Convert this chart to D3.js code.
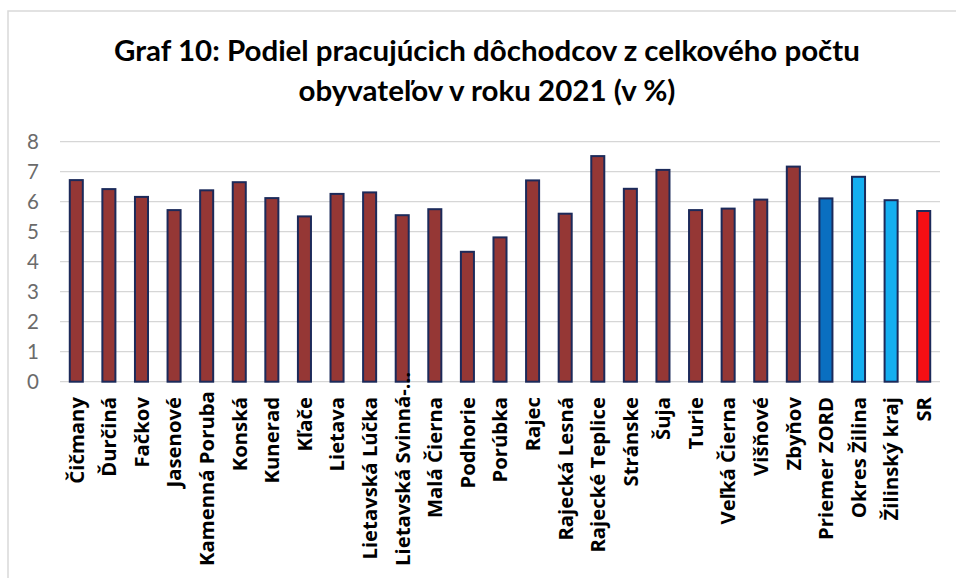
<!DOCTYPE html>
<html>
<head>
<meta charset="utf-8">
<script src="https://cdn.jsdelivr.net/npm/d3@7"></script>
<style>
  html, body { margin: 0; padding: 0; background: #fff; }
  svg { display: block; }
</style>
</head>
<body>
<svg id="chart" width="956" height="578"></svg>
<script>
const categories = ["Čičmany","Ďurčiná","Fačkov","Jasenové","Kamenná Poruba","Konská","Kunerad","Kľače","Lietava","Lietavská Lúčka","Lietavská Svinná-…","Malá Čierna","Podhorie","Porúbka","Rajec","Rajecká Lesná","Rajecké Teplice","Stránske","Šuja","Turie","Veľká Čierna","Višňové","Zbyňov","Priemer ZORD","Okres Žilina","Žilinský kraj","SR"];
const values = [6.72,6.42,6.16,5.72,6.38,6.65,6.12,5.51,6.26,6.31,5.55,5.75,4.33,4.81,6.71,5.60,7.52,6.43,7.06,5.72,5.77,6.07,7.17,6.11,6.83,6.05,5.69];
const barColors = ["#953735","#953735","#953735","#953735","#953735","#953735","#953735","#953735","#953735","#953735","#953735","#953735","#953735","#953735","#953735","#953735","#953735","#953735","#953735","#953735","#953735","#953735","#953735","#0a6fc0","#14aef0","#14aef0","#f50f14"];
const yTicks = [0,1,2,3,4,5,6,7,8];
const titleLines = ["Graf 10: Podiel pracujúcich dôchodcov z celkového počtu","obyvateľov v roku 2021 (v %)"];

const svg = d3.select("#chart");
const font = "Lato, 'Open Sans', sans-serif";
const lblFont = "'Open Sans', sans-serif";

// frame
svg.append("rect").attr("x", 8).attr("y", 11).attr("width", 1200).attr("height", 1200)
  .attr("fill", "none").attr("stroke", "#d9d9d9").attr("stroke-width", 1.5);

const x = d3.scaleBand().domain(categories).range([60, 940]).paddingInner(0.6).paddingOuter(0.3);
const y = d3.scaleLinear().domain([0, 8]).range([381.7, 141.7]);

// gridlines
svg.append("g").selectAll("line").data(yTicks).join("line")
  .attr("x1", 60).attr("x2", 940)
  .attr("y1", d => y(d)).attr("y2", d => y(d))
  .attr("stroke", "#d6d6d6").attr("stroke-width", 1.3);

// y axis labels
const yAxis = d3.axisLeft(y).tickValues(yTicks).tickSize(0).tickPadding(0).tickFormat(d3.format("d"));
const ga = svg.append("g").attr("transform", "translate(39,0)").call(yAxis);
ga.select(".domain").remove();
ga.selectAll("text").attr("font-family", font).attr("font-size", 20.5).attr("fill", "#6b6b6b");

// bars
svg.append("g").selectAll("rect").data(categories).join("rect")
  .attr("x", d => x(d))
  .attr("y", (d, i) => y(values[i]))
  .attr("width", x.bandwidth())
  .attr("height", (d, i) => y(0) - y(values[i]))
  .attr("fill", (d, i) => barColors[i])
  .attr("stroke", "#1c2a5a").attr("stroke-width", 2);

// x labels
const xl = svg.append("g").selectAll("text").data(categories).join("text")
  .attr("dy", "0.36em")
  .attr("text-anchor", "end")
  .attr("font-family", lblFont).attr("font-weight", "bold").attr("font-size", 17)
  .attr("fill", "#000")
  .text(d => d);
const ref = xl.filter(d => d === "Kamenná Poruba").node();
const lblSize = 17 * 175 / ref.getComputedTextLength();
xl.attr("font-size", lblSize);
xl.attr("transform", function(d) {
  const len = this.getComputedTextLength();
  const endY = Math.min(397, 566 - len);
  return `translate(${x(d) + x.bandwidth() / 2},${endY}) rotate(-90)`;
});

// title
const tl = svg.append("g").selectAll("text").data(titleLines).join("text")
  .attr("x", 487).attr("y", (d, i) => i === 0 ? 61 : 101)
  .attr("text-anchor", "middle")
  .attr("font-family", font).attr("font-weight", "bold").attr("font-size", 26)
  .attr("fill", "#000")
  .text(d => d);
const t0 = tl.nodes()[0].getComputedTextLength();
tl.attr("font-size", 26 * 746 / t0);
</script>
</body>
</html>
